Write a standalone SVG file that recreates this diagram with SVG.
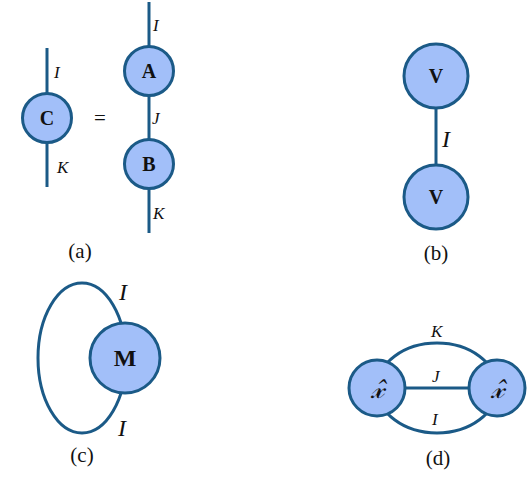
<svg xmlns="http://www.w3.org/2000/svg" width="528" height="500" viewBox="0 0 528 500">
<style>
.edge{fill:none;stroke:#1b5a87;stroke-width:3}
.node{fill:#a2bff9;stroke:#1b5a87;stroke-width:3}
.nl{font-family:"Liberation Serif","Times New Roman",serif;font-weight:bold;font-size:20px;text-anchor:middle;fill:#111}
.il{font-family:"Liberation Serif","Times New Roman",serif;font-style:italic;font-size:17px;fill:#111}
.big{font-size:24px}
.cap{font-family:"Liberation Serif","Times New Roman",serif;font-size:21px;text-anchor:middle;fill:#111}
.xh{font-family:"DejaVu Serif","Noto Sans",serif;font-style:italic;font-size:28px;text-anchor:middle;fill:#111}
</style>
<rect width="528" height="500" fill="#fff"/>
<g id="connectors">
<line class="edge" x1="47" y1="48" x2="47" y2="187"/>
<line class="edge" x1="149" y1="2" x2="149" y2="233"/>
<line class="edge" x1="436" y1="76" x2="436" y2="197"/>
<ellipse class="edge" cx="82" cy="358" rx="44" ry="75"/>
<ellipse class="edge" cx="437" cy="388" rx="60" ry="45"/>
<line class="edge" x1="377" y1="388" x2="497" y2="388"/>
</g>
<g id="nodeC"><circle class="node" cx="47" cy="118" r="24.5"/><text class="nl" x="47" y="125">C</text></g>
<g id="nodeA"><circle class="node" cx="149" cy="71" r="24.5"/><text class="nl" x="149" y="78">A</text></g>
<g id="nodeB"><circle class="node" cx="149" cy="164" r="24.5"/><text class="nl" x="149" y="171">B</text></g>
<g id="nodeV1"><circle class="node" cx="436" cy="76" r="32"/><text class="nl" x="436" y="83">V</text></g>
<g id="nodeV2"><circle class="node" cx="436" cy="197" r="32"/><text class="nl" x="436" y="204">V</text></g>
<g id="nodeM"><circle class="node" cx="125" cy="358" r="35"/><text class="nl big" x="125" y="366">M</text></g>
<g id="nodeX1"><circle class="node" cx="377" cy="388" r="28"/><text class="xh" x="377" y="398">𝓍̂</text></g>
<g id="nodeX2"><circle class="node" cx="497" cy="388" r="28"/><text class="xh" x="497" y="398">𝓍̂</text></g>
<g id="labels">
<text class="il" x="54" y="78">I</text>
<text class="il" x="57" y="173">K</text>
<text class="cap" x="100" y="125">=</text>
<text class="il" x="153" y="31">I</text>
<text class="il" x="152" y="124">J</text>
<text class="il" x="153" y="219">K</text>
<text class="cap" x="80" y="258">(a)</text>
<text class="il big" x="442" y="147">I</text>
<text class="cap" x="436" y="260">(b)</text>
<text class="il big" x="119" y="300">I</text>
<text class="il big" x="118" y="436">I</text>
<text class="cap" x="82" y="462">(c)</text>
<text class="il" x="431" y="337">K</text>
<text class="il" x="432" y="382">J</text>
<text class="il" x="432" y="425">I</text>
<text class="cap" x="438" y="465">(d)</text>
</g>
</svg>
